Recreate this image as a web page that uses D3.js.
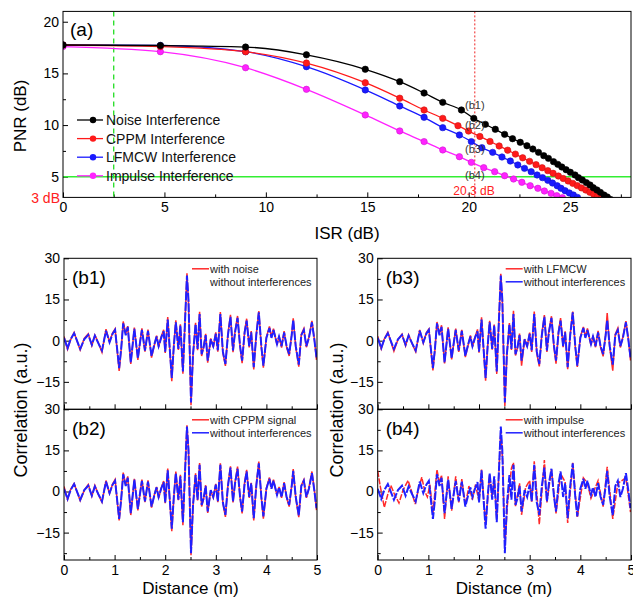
<!DOCTYPE html>
<html><head><meta charset="utf-8">
<script src="https://cdn.jsdelivr.net/npm/d3@7"></script>
<style>body{margin:0;background:#fff} svg{display:block} text{font-family:"Liberation Sans",Arial,sans-serif}</style>
</head><body><svg id="c" width="633" height="598"></svg>
<script>
// ---------- panel (a) data ----------
const isrNoise = [0,4.8,9.0,12.0,14.9,16.6,17.8,18.72,19.64,20.25,20.82,21.31,21.77,22.16,22.54,22.87,23.16,23.44,23.7,23.93,24.18,24.39,24.59,24.8,25.01,25.24,25.41,25.6,25.8,25.98,26.14,26.32,26.49,26.67,26.83,26.99];
const pnrNoise = [17.75,17.7,17.55,16.8,15.4,14.2,13.1,12.2,11.46,10.65,10.07,9.59,9.1,8.68,8.33,8.0,7.68,7.36,7.04,6.78,6.46,6.2,5.94,5.68,5.43,5.17,4.91,4.68,4.43,4.2,3.94,3.72,3.49,3.23,3.04,2.8];
const isrCppm = [0,4.8,9.0,12.0,14.9,16.6,17.8,18.72,19.47,19.99,20.55,21.05,21.5,21.92,22.3,22.66,23.0,23.32,23.62,23.9,24.16,24.42,24.66,24.9,25.13,25.35,25.56,25.77,25.97,26.16,26.35,26.54];
const pnrCppm = [17.75,17.6,17.1,16.0,14.1,12.6,11.46,10.65,9.94,9.42,8.9,8.42,7.98,7.57,7.19,6.83,6.49,6.17,5.87,5.59,5.33,5.07,4.83,4.59,4.36,4.14,3.92,3.71,3.5,3.3,3.1,2.9];
const isrLfmcw = [0,4.8,9.0,12.0,14.9,16.6,17.8,18.72,19.54,20.13,20.65,21.18,21.64,22.05,22.42,22.75,23.08,23.37,23.64,23.9,24.13,24.36,24.55,24.75,24.96,25.16,25.36];
const pnrLfmcw = [17.75,17.7,17.1,15.65,13.4,11.85,10.75,9.75,9.04,8.4,7.81,7.36,6.91,6.52,6.14,5.81,5.49,5.17,4.91,4.65,4.39,4.13,3.88,3.65,3.43,3.23,3.0];
const isrImpulse = [0,4.8,9.0,12.0,14.9,16.6,17.8,18.72,19.54,20.13,20.74,21.28,21.77,22.21,22.62,23.03,23.41,23.73,24.06,24.34,24.62];
const pnrImpulse = [17.6,17.1,15.55,13.46,10.98,9.43,8.4,7.59,6.94,6.39,5.88,5.49,5.1,4.78,4.46,4.13,3.88,3.62,3.39,3.17,2.97];
const seriesNames = ["Noise Interference","CPPM Interference","LFMCW Interference","Impulse Interference"];
const seriesColors = ["#000000","#ff1a1a","#1a1aff","#ff22ff"];
const isrTicks = [0,5,10,15,20,25];
const pnrTicks = [5,10,15,20];
const annoLabels = ["(b1)","(b2)","(b3)","(b4)"];
const annoY = [11.9,10.0,7.7,5.2];

// ---------- panels (b) data ----------
const distX = [0.00,0.07,0.13,0.20,0.32,0.40,0.48,0.55,0.61,0.68,0.75,0.83,0.90,0.96,1.01,
 1.09,1.13,1.17,1.22,1.26,1.32,1.39,1.46,1.50,1.54,1.60,1.66,1.73,1.79,1.83,1.87,1.92,1.97,
 2.00,2.05,2.13,2.17,2.21,2.26,2.30,2.35,2.43,2.46,2.51,2.55,2.60,2.64,2.68,2.72,2.76,2.80,2.84,2.90,2.95,
 3.00,3.04,3.09,3.14,3.19,3.24,3.29,3.34,3.38,3.43,3.48,3.52,3.57,3.61,3.66,3.70,3.75,3.80,3.85,3.90,3.94,
 4.00,4.06,4.10,4.14,4.21,4.25,4.30,4.35,4.40,4.45,4.50,4.53,4.58,4.64,4.69,4.74,4.79,4.84,4.90,4.95,4.99];
const cleanY = [1.0,-2.7,0.5,2.7,-3.0,0.5,2.1,-1.5,1.8,-1.0,-3.6,3.6,-0.6,2.5,3.9,
 -10.0,-3.0,6.3,2.0,5.0,-7.9,4.3,-6.3,-1.0,3.9,-3.6,3.6,-5.5,-1.0,1.5,-2.0,1.0,3.4,
 -4.0,7.7,-13.6,-2.0,6.7,-3.0,5.5,-11.2,23.7,15.0,-22.5,-4.9,6.0,-3.0,9.7,-4.9,-2.4,2.0,-7.3,0.5,-2.0,
 2.5,-3.5,9.7,-4.0,-8.5,2.0,8.7,-3.6,3.0,8.3,-2.0,-7.3,3.0,7.3,-2.0,3.0,-9.7,2.0,10.3,-2.0,-9.1,
 1.0,4.6,1.0,3.9,-1.2,1.5,-2.0,3.0,-2.0,-4.9,2.0,7.5,-2.0,-8.7,2.0,3.9,-2.0,1.0,6.7,0.0,-6.1];
const noiseY = [1.5,-3.2,0.3,3.0,-3.4,0.8,2.5,-1.8,2.0,-0.8,-4.2,4.2,-0.4,2.8,4.3,
 -11.0,-3.2,7.0,2.5,5.3,-8.5,4.8,-7.0,-0.8,4.5,-4.0,4.0,-6.2,-1.3,1.8,-2.3,1.4,4.0,
 -4.5,8.6,-14.8,-1.8,7.4,-3.4,6.0,-12.0,24.5,14.0,-23.5,-5.5,6.5,-3.5,10.5,-5.6,-2.0,2.5,-8.0,0.8,-2.4,
 3.0,-4.0,10.4,-4.5,-9.2,2.4,9.4,-4.2,3.4,9.0,-2.4,-8.2,3.4,8.0,-2.5,3.5,-10.5,2.3,10.8,-2.5,-9.8,
 1.3,5.2,1.3,4.4,-1.6,1.8,-2.5,3.5,-2.4,-5.6,2.3,8.1,-2.4,-9.5,2.3,4.4,-2.4,1.3,7.2,0.3,-7.0];
const cppmY = [1.8,-2.9,0.7,2.9,-3.3,0.4,2.6,-1.7,2.2,-1.2,-3.9,4.0,-0.8,2.7,4.4,
 -10.6,-2.7,6.9,2.3,5.5,-8.6,4.6,-6.9,-1.2,4.3,-3.9,4.1,-5.9,-0.8,1.7,-2.4,1.2,3.8,
 -4.3,8.4,-14.5,-2.3,7.3,-3.2,6.1,-12.3,24.2,15.5,-23.3,-5.2,6.6,-3.3,10.4,-5.5,-2.7,2.3,-7.8,0.4,-2.2,
 2.8,-3.9,10.3,-4.3,-9.3,2.3,9.2,-4.0,3.3,9.1,-2.3,-8.0,3.3,7.9,-2.3,3.2,-10.6,2.4,10.9,-2.2,-9.9,
 1.2,5.1,1.2,4.3,-1.5,1.7,-2.3,3.4,-2.3,-5.5,2.2,8.2,-2.3,-9.4,2.2,4.3,-2.3,1.2,7.3,0.2,-6.8];
const lfmcwY = [1.6,-3.0,0.6,3.1,-3.8,0.4,2.4,-1.9,2.1,-1.1,-4.0,3.9,-0.9,2.9,4.2,
 -10.8,-3.3,6.8,2.4,5.6,-8.3,4.9,-6.8,-1.1,4.4,-4.1,3.9,-6.0,-1.2,1.9,-2.2,1.3,4.1,
 -4.4,8.5,-14.6,-2.2,7.2,-3.3,5.9,-12.1,24.4,14.5,-23.8,-5.4,6.4,-3.4,10.9,-5.4,-2.5,2.6,-9.1,0.6,-2.3,
 2.9,-4.1,10.6,-4.6,-9.4,2.5,9.3,-4.1,3.6,8.9,-2.5,-8.4,3.5,8.2,-2.4,3.4,-10.4,2.2,10.6,-2.4,-9.6,
 1.4,5.0,1.4,4.5,-1.7,1.9,-2.4,3.6,-2.5,-5.7,2.4,10.1,-2.5,-10.9,2.4,4.6,-2.5,1.4,7.1,0.4,-7.2];
const impulseX = [0.00,0.05,0.13,0.20,0.26,0.33,0.42,0.50,0.60,0.67,0.74,0.80,0.87,0.93,0.98,1.03,1.09,1.17,1.22,1.26,1.32,1.39,1.46,1.54,1.60,1.66,1.73,1.80,1.87,1.93,
 2.00,2.05,2.13,2.21,2.26,2.30,2.35,2.43,2.47,2.51,2.56,2.64,2.68,2.72,2.80,2.84,2.92,
 3.00,3.04,3.09,3.19,3.29,3.34,3.43,3.52,3.61,3.70,3.75,3.85,3.94,
 4.06,4.14,4.21,4.35,4.45,4.53,4.64,4.74,4.90,4.99];
const impulseY = [7.5,2.0,-5.8,-1.0,2.2,-1.0,-4.2,0.5,4.0,0.0,-4.6,0.5,5.2,0.0,-2.0,2.5,-8.0,8.0,3.0,6.0,-10.0,5.5,-7.0,5.5,-4.0,4.5,-5.0,2.0,-3.0,2.5,
 -3.5,8.0,-12.0,6.0,-2.0,5.0,-10.0,22.0,10.0,-20.0,-5.0,8.5,10.5,-5.5,3.0,-8.5,1.5,
 4.0,-4.0,11.0,-12.0,11.5,-4.0,8.0,-8.0,6.5,3.5,-11.5,10.5,-9.5,
 5.0,3.0,-2.5,4.0,-5.5,9.0,-10.0,3.0,5.0,-7.5];
const distTicks = [0,1,2,3,4,5];
const corrTicks = [-15,0,15,30];
const panelLabels = ["(b1)","(b2)","(b3)","(b4)"];
const redLegend = ["with noise","with CPPM signal","with LFMCW","with impulse"];
const blueLegend = "without interferences";

const RED = "#ff2a2a", BLUE = "#2020ff";
const svg = d3.select("#c");
const defs = svg.append("defs");

// ================= panel (a) =================
const xA = d3.scaleLinear().domain([0,28]).range([63,631]);
const yA = d3.scaleLinear().domain([3,21]).range([197.4,11.4]);
defs.append("clipPath").attr("id","clipA").append("rect")
  .attr("x",xA(0)).attr("y",yA(21)).attr("width",xA(28)-xA(0)).attr("height",yA(3)-yA(21));

const gA = svg.append("g");
gA.append("g").attr("transform",`translate(0,${yA(3)})`)
  .call(d3.axisBottom(xA).tickValues(d3.range(2.5,28,5)).tickSize(-3).tickFormat(""))
  .call(g=>g.select(".domain").remove());
gA.append("g").attr("transform",`translate(${xA(0)},0)`)
  .call(d3.axisLeft(yA).tickValues([7.5,12.5,17.5]).tickSize(-3).tickFormat(""))
  .call(g=>g.select(".domain").remove());
const axA = gA.append("g").attr("transform",`translate(0,${yA(3)})`)
  .call(d3.axisBottom(xA).tickValues(isrTicks).tickSize(-5).tickPadding(5).tickFormat(d3.format("d")));
const ayA = gA.append("g").attr("transform",`translate(${xA(0)},0)`)
  .call(d3.axisLeft(yA).tickValues(pnrTicks).tickSize(-5).tickPadding(4).tickFormat(d3.format("d")));
[axA,ayA].forEach(a=>{a.select(".domain").remove();a.selectAll("text").attr("font-size",14).attr("fill","#000");});
gA.selectAll(".tick line").attr("stroke","#000");

const refG = gA.append("g").attr("clip-path","url(#clipA)");
refG.append("line").attr("x1",xA(2.5)).attr("x2",xA(2.5)).attr("y1",yA(21)).attr("y2",yA(3))
  .attr("stroke","#22dd22").attr("stroke-width",1.3).attr("stroke-dasharray","5,4");
refG.append("line").attr("x1",xA(20.3)).attr("x2",xA(20.3)).attr("y1",yA(21)).attr("y2",yA(3))
  .attr("stroke","#ee2222").attr("stroke-width",1).attr("stroke-dasharray","2,2");
refG.append("line").attr("x1",xA(0)).attr("x2",xA(28)).attr("y1",yA(5)).attr("y2",yA(5))
  .attr("stroke","#33ee33").attr("stroke-width",1.5);

const seriesA = [[isrNoise,pnrNoise],[isrCppm,pnrCppm],[isrLfmcw,pnrLfmcw],[isrImpulse,pnrImpulse]];
const lineA = d3.line().x(d=>xA(d[0])).y(d=>yA(d[1])).curve(d3.curveMonotoneX);
const curveG = gA.append("g").attr("clip-path","url(#clipA)");
[3,2,1,0].forEach(i=>{
  const pts = seriesA[i][0].map((x,j)=>[x,seriesA[i][1][j]]);
  curveG.append("path").datum(pts).attr("d",lineA).attr("fill","none")
    .attr("stroke",seriesColors[i]).attr("stroke-width",1.3);
  curveG.selectAll(null).data(pts).enter().append("circle")
    .attr("cx",d=>xA(d[0])).attr("cy",d=>yA(d[1])).attr("r",3.2)
    .attr("fill",seriesColors[i]).attr("stroke",d3.color(seriesColors[i]).darker(0.6)).attr("stroke-width",0.6);
});

gA.append("rect").attr("x",xA(0)).attr("y",yA(21)).attr("width",xA(28)-xA(0)).attr("height",yA(3)-yA(21))
  .attr("fill","none").attr("stroke","#000").attr("stroke-width",1);

seriesNames.forEach((n,i)=>{
  const y = 120 + i*18.6;
  gA.append("line").attr("x1",77).attr("x2",103).attr("y1",y).attr("y2",y).attr("stroke",seriesColors[i]).attr("stroke-width",1.3);
  gA.append("circle").attr("cx",93).attr("cy",y).attr("r",3.2).attr("fill",seriesColors[i]);
  gA.append("text").attr("x",106).attr("y",y+5).attr("font-size",14).attr("fill","#111").text(n);
});
annoLabels.forEach((t,i)=>{
  gA.append("text").attr("x",465).attr("y",yA(annoY[i])+4).attr("font-size",11).attr("fill","#333").text(t);
});
gA.append("text").attr("x",474).attr("y",195).attr("text-anchor","middle").attr("font-size",12).attr("fill","#ff2020").text("20.3 dB");
gA.append("text").attr("x",60).attr("y",203).attr("text-anchor","end").attr("font-size",14).attr("fill","#ff2020").text("3 dB");
gA.append("text").attr("x",70).attr("y",36).attr("font-size",19).attr("fill","#000").text("(a)");
gA.append("text").attr("x",347).attr("y",239).attr("text-anchor","middle").attr("font-size",17).text("ISR (dB)");
gA.append("text").attr("transform","translate(26,116) rotate(-90)").attr("text-anchor","middle").attr("font-size",17).text("PNR (dB)");

// ================= panels (b) =================
const panels = [
  {x0:64, x1:317, y0:258.3, y1:409.3, red:[distX,noiseY], label:0, showX:false, blueLeg:false},
  {x0:64, x1:317, y0:409.3, y1:560, red:[distX,cppmY], label:1, showX:true, blueLeg:true},
  {x0:377.7, x1:631, y0:258.3, y1:409.3, red:[distX,lfmcwY], label:2, showX:false, blueLeg:true},
  {x0:377.7, x1:631, y0:409.3, y1:560, red:[impulseX,impulseY], label:3, showX:true, blueLeg:true}
];
panels.forEach((p,k)=>{
  const xs = d3.scaleLinear().domain([0,5]).range([p.x0,p.x1]);
  const ys = d3.scaleLinear().domain([-25,30]).range([p.y1,p.y0]);
  const id = "clipB"+k;
  defs.append("clipPath").attr("id",id).append("rect").attr("x",p.x0).attr("y",p.y0).attr("width",p.x1-p.x0).attr("height",p.y1-p.y0);
  const g = svg.append("g");
  g.append("g").attr("transform",`translate(0,${p.y1})`)
    .call(d3.axisBottom(xs).tickValues(d3.range(0.5,5,1)).tickSize(-3).tickFormat(""))
    .call(a=>a.select(".domain").remove());
  g.append("g").attr("transform",`translate(${p.x0},0)`)
    .call(d3.axisLeft(ys).tickValues([-22.5,-7.5,7.5,22.5]).tickSize(-3).tickFormat(""))
    .call(a=>a.select(".domain").remove());
  const ax = g.append("g").attr("transform",`translate(0,${p.y1})`)
    .call(d3.axisBottom(xs).tickValues(distTicks).tickSize(-5).tickPadding(5).tickFormat(p.showX?d3.format("d"):""));
  const ay = g.append("g").attr("transform",`translate(${p.x0},0)`)
    .call(d3.axisLeft(ys).tickValues(corrTicks).tickSize(-5).tickPadding(4).tickFormat(d3.format("d")));
  [ax,ay].forEach(a=>{a.select(".domain").remove();a.selectAll("text").attr("font-size",14).attr("fill","#000");});
  g.selectAll(".tick line").attr("stroke","#000");

  const line = d3.line().x(d=>xs(d[0])).y(d=>ys(d[1]));
  const cg = g.append("g").attr("clip-path",`url(#${id})`);
  const redPts = p.red[0].map((x,j)=>[x,p.red[1][j]]);
  const bluePts = distX.map((x,j)=>[x,cleanY[j]]);
  cg.append("path").datum(redPts).attr("d",line).attr("fill","none").attr("stroke",RED).attr("stroke-width",1.5)
    .attr("stroke-dasharray", k===3 ? "6,1.5" : null);
  cg.append("path").datum(bluePts).attr("d",line).attr("fill","none").attr("stroke",BLUE).attr("stroke-width",2)
    .attr("stroke-dasharray","9,1.5");

  g.append("rect").attr("x",p.x0).attr("y",p.y0).attr("width",p.x1-p.x0).attr("height",p.y1-p.y0)
    .attr("fill","none").attr("stroke","#000").attr("stroke-width",1);

  g.append("text").attr("x",p.x0+8).attr("y",p.y0+26).attr("font-size",19).text(panelLabels[p.label]);
  const lx = p.x0+128, ly = p.y0+10.5;
  g.append("line").attr("x1",lx).attr("x2",lx+17).attr("y1",ly).attr("y2",ly).attr("stroke",RED).attr("stroke-width",1.5);
  g.append("text").attr("x",lx+18).attr("y",ly+4).attr("font-size",11).attr("fill","#222").text(redLegend[p.label]);
  if(p.blueLeg) g.append("line").attr("x1",lx).attr("x2",lx+17).attr("y1",ly+13).attr("y2",ly+13).attr("stroke",BLUE).attr("stroke-width",1.5);
  g.append("text").attr("x",lx+18).attr("y",ly+17).attr("font-size",11).attr("fill","#222").text(blueLegend);
});
svg.append("text").attr("transform","translate(27,410) rotate(-90)").attr("text-anchor","middle").attr("font-size",18).text("Correlation (a.u.)");
svg.append("text").attr("transform","translate(343,410) rotate(-90)").attr("text-anchor","middle").attr("font-size",18).text("Correlation (a.u.)");
svg.append("text").attr("x",190.5).attr("y",594).attr("text-anchor","middle").attr("font-size",17).text("Distance (m)");
svg.append("text").attr("x",504).attr("y",594).attr("text-anchor","middle").attr("font-size",17).text("Distance (m)");
</script></body></html>
